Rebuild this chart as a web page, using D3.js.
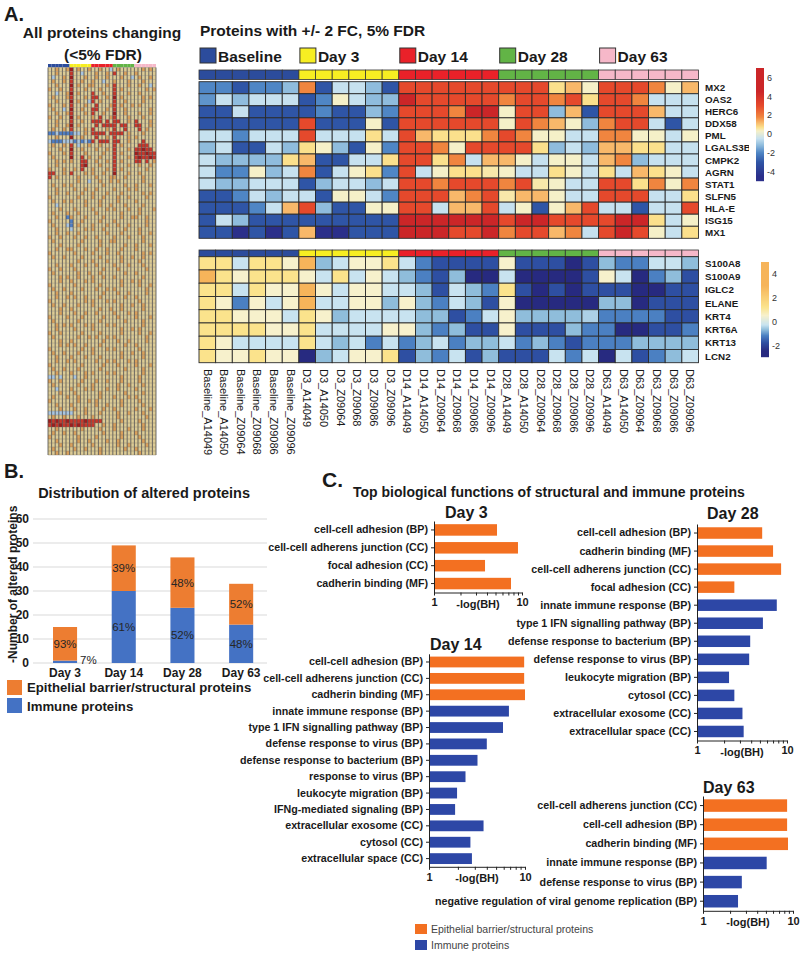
<!DOCTYPE html>
<html><head><meta charset="utf-8">
<script src="https://cdn.jsdelivr.net/npm/d3@7/dist/d3.min.js"></script>
<style>
html,body{margin:0;padding:0;background:#fff;}
svg text{font-family:"Liberation Sans",Arial,Helvetica,sans-serif;}
</style></head>
<body>
<svg id="fig" width="800" height="957" xmlns="http://www.w3.org/2000/svg"></svg>
<script>
// ---------------- DATA ----------------
const groups = ["Baseline","Day 3","Day 14","Day 28","Day 63"];
const groupPrefixes = ["Baseline","D3","D14","D28","D63"];
const groupColors = ["#2c4c9c","#f7ee22","#ea2129","#62b446","#f6b8c9"];
const donors = ["A14049","A14050","Z09064","Z09068","Z09086","Z09096"];
const upperGenes = ["MX2","OAS2","HERC6","DDX58","PML","LGALS3BP","CMPK2","AGRN","STAT1","SLFN5","HLA-E","ISG15","MX1"];
const lowerGenes = ["S100A8","S100A9","IGLC2","ELANE","KRT4","KRT6A","KRT13","LCN2"];
const upperValues = [
 [-2,-2,-3,-2,-2,-1.2,  1.8,-3,-0.5,-0.5,-1.2,-3,  3,3,3,3,3,3,  3,3,3,0.7,1.2,0.3,  3,3,3,1.8,0.3,1.2],
 [-1.8,-0.5,-1.2,-0.5,-0.5,-0.5,  -3,-2,0.3,-0.5,-1.2,-1.2,  4.5,3,3,3,3,3,  1.8,3,3,1.8,3,0.7,  3,3,1.8,-0.5,-0.5,-0.5],
 [-3,-3,-0.5,-3,-3,-3,  -3,-2,-3,-3,-1.2,-2,  3,3,3,1.8,4.5,4.5,  0.3,3,3,-1.2,1.2,-3,  3,3,3,1.2,-0.5,-0.5],
 [-3,-3,-3,-3,-3,-3,  3,-3,-3,-3,0.3,-3,  3,3,3,3,3,3,  0.3,3,1.8,1.2,0.3,-1.2,  1.8,3,3,-0.5,-3,-0.5],
 [-0.5,-0.5,-2,-0.5,-0.5,-0.5,  3,-0.5,-0.5,-0.5,0.7,-0.5,  3,1.2,0.7,0.7,0.7,1.8,  3,1.8,0.3,0.3,-0.5,-0.5,  1.8,1.8,0.3,0.3,-0.5,0.3],
 [-1.2,-0.5,-3,-3,-0.5,-1.2,  0.7,0.3,-1.2,-3,0.3,-2,  3,3,1.8,0.3,3,3,  3,3,0.7,-1.2,-0.5,-1.2,  1.2,1.2,0.7,0.7,-0.5,-0.5],
 [-0.5,-1.2,-1.2,-1.2,-1.2,0.7,  1.2,-3,-3,-0.5,-0.5,0.7,  3,3,0.7,1.8,-0.5,1.2,  1.2,0.3,-0.5,0.3,0.3,-0.5,  1.2,1.8,-1.2,-0.5,-0.5,-0.5],
 [-0.5,-2,-2,0.3,-1.2,-0.5,  1.8,-3,-0.5,0.3,0.7,-2,  3,-0.5,0.3,0.7,0.7,0.5,  0.3,-0.5,-0.5,0.7,0.3,-0.5,  0.7,-0.5,1.2,0.7,0.3,-0.5],
 [-0.5,-1.2,-1.2,-0.5,-0.5,-0.5,  -3,-1.2,-0.5,-0.5,-1.2,-0.5,  3,3,1.8,3,3,3,  1.8,3,0.5,0.3,-0.5,-0.5,  3,3,0.7,1.8,0.3,1.8],
 [-3,-3,-2,-0.5,-1.2,-0.5,  -0.5,-3,0.3,0.3,-0.5,-2,  3,3,3,1.2,1.8,3,  0.5,1.2,1.2,0.3,-0.5,-0.5,  3,3,3,-0.5,-0.5,0.7],
 [-3,-3,-3,-2,-0.5,1.2,  3,-1.2,-3,-3,0.3,0.3,  3,3,-0.5,1.2,1.2,3,  -0.5,0.3,-3,0.3,1.2,3,  -0.5,-0.5,-3,-0.5,-0.5,3],
 [-3,-0.5,-1.2,-3,-3,-3,  -3,-3,-3,-3,-3,-3,  4.5,4.5,4.5,4.5,4.5,4.5,  3,4.5,4.5,3,3,3,  3,4.5,4.5,0.7,-0.5,0.3],
 [-3,-3,-4.5,-3,-4.5,-3,  1.2,-4.5,-4.5,-3,-3,-3,  4.5,4.5,4.5,3,3,4.5,  1.8,3,3,1.2,1.8,-0.5,  3,4.5,3,0.3,-0.5,0.7]
];
const lowerValues = [
 [1.2,1.2,-0.3,1.2,1.2,0.5,  3,-0.7,-0.3,0.5,0.5,1.2,  -0.3,-1.2,-1.8,-1.8,-1.8,-1.8,  0.5,-1.8,-1.8,-1.8,-2.5,-1.8,  -0.7,-1.2,-1.2,-0.3,-0.3,-0.7],
 [3,1.2,0.5,1.2,1.2,1.2,  0.5,-0.3,1.2,-0.3,0.5,-0.3,  -0.7,-1.2,-1.8,-0.7,-2.5,-2.5,  -0.3,-2.5,-2.5,-2.5,-2.5,-1.8,  0.5,-0.3,-2.5,-1.2,-0.7,-1.8],
 [1.2,1.2,-0.3,1.2,0.5,0.5,  3,0.5,-0.3,0.5,0.5,-0.3,  -0.3,-0.7,-1.8,-0.3,-0.7,-1.2,  1.2,-1.8,-2.5,-1.8,-2.5,-1.8,  -1.8,-1.8,-2.5,-2.5,-1.8,-1.8],
 [1.2,0.5,-1.2,0.5,-0.3,0.5,  3,-0.3,-0.3,0.5,0.5,-0.7,  0.5,-0.7,-1.2,-0.3,-0.7,-1.8,  0.5,-2.5,-2.5,-2.5,-2.5,-2.5,  -0.7,-0.7,-2.5,-1.8,-1.8,-1.8],
 [1.2,1.2,0.5,0.5,0.5,-0.3,  1.2,0.5,-0.7,-0.3,-0.3,-0.3,  -0.3,-0.7,-0.7,-1.8,-1.2,-0.3,  0.5,-0.7,-0.7,-0.7,-0.7,-0.5,  -1.2,-1.2,-1.2,-1.2,-1.8,-1.8],
 [1.2,1.2,1.2,1.2,0.5,0.5,  1.2,-0.3,-0.3,-0.3,-0.3,0.5,  0.5,-0.7,-1.2,-0.7,-1.8,-1.8,  0.5,-1.8,-1.8,-1.8,-0.7,-1.2,  -1.2,-2.5,-2.5,-1.8,-1.8,-1.2],
 [1.2,0.5,-0.3,-0.3,-0.3,-0.3,  1.2,-0.3,-0.7,-0.3,-1.2,-0.3,  -1.2,-0.7,-0.3,-1.2,-0.7,-0.7,  -0.3,-1.2,-0.7,-1.2,-1.8,-1.2,  -1.2,-1.2,-0.7,-0.7,-0.7,-0.7],
 [1.2,0.5,0.5,1.2,0.5,0.5,  -2.5,-0.7,-0.3,0.5,0.5,1.2,  -1.8,-0.7,-1.2,-0.3,-1.8,-0.7,  -1.8,-1.8,-1.8,-0.3,-1.2,-0.3,  -2.5,-0.3,-1.8,-1.2,-0.7,-0.3]
];
const upperTicks = [6,4,2,0,-2,-4];
const lowerTicks = [4,2,0,-2];

// overview heatmap (coarse reading): . neutral, o orange, r red, R dark red, b light blue, B blue
const miniRows = [
"..o..o|R.o..o|..o..b|.o....|..o.o.","..o...|r..b..|.o..o.|r..o..|o.....",".b..o.|R...o.|.o..o.|..o..b|.o..o.",
".o..o.|r..o..|o..b..|o...o.|..o...","..o...|R.o..o|o...o.|r...o.|.o..b.","o..o..|r...o.|..o...|r.o...|...o.o",
"..b..o|R.o...|r..o..|r...o.|.o....",".o...o|r...o.|rr..o.|R.o...|..o.o.","..o...|R.o..b|r.o...|r..o..|..o...",
"o...o.|r...o.|.r...o|r.o..o|.o....",".o..b.|R..o..|rr..o.|r..o..|....o.","..o..o|r...o.|r..o..|R..o..|.o..o.",
"o..o..|R.o...|o.r..o|r...o.|..o...","..o...|r..o..|rrr.r.|rr..o.|r...o.","..o..o|R.o...|.r.rrr|r.rr..|rr..o.",
".o..o.|r...o.|r...o.|r..r..|.r.o..","BBbBBB|Bbb.o.|rrrr.r|rrr.o.|..o...","..o...|R..o..|.r..o.|r...o.|o.....",
"bBBBbb|bBbBbB|r.rrr.|rr..o.|..r...",".o..o.|r.b..o|..o...|r.o...|.rrr..","...o..|R..o..|.o..o.|r...o.|rrRrr.",
"o...o.|r...o.|...o..|r.o...|RrrRrr",".o....|R..r.o|..o...|r...o.|rRrrRr","..o.o.|o..rr.|.o..o.|r.o...|rr.r.o",
"..o...|...rR.|..o...|r...o.|.o..o.","o...o.|.o.r..|o...o.|r.o...|...o..","rr..o.|r...o.|o..o..|R...o.|.o....",
"r.o...|..o...|.o...o|o..o..|..o...","......|..o..b|..o..o|.o....|..o...",".o..o.|o.....|...o..|...o..|o...o.",
"..o...|.o..o.|.o....|o...o.|o.....","..o..o|...o..|o...o.|..o...|..o.o.","o.....|..o...|o..o..|.o..o.|...o..",
".o..o.|o...o.|..o...|.o....|o.....","..b...|....o.|..o..o|...o..|..o...","...o..|.o....|o...o.|o...o.|.o...o",
".o...o|..o...|.o....|..o...|.o....","..o..B|o...o.|...o..|..o..o|o..o..","o.....|B..o..|..o...|o.....|...o..",
".o...b|B.o...|o...o.|.o..o.|...o..","..o...|b...o.|o..o..|...o..|.o....","..o..o|..o...|....o.|..o...|.o..o.",
"o..o..|.o..o.|.o....|o...o.|..o...",".o....|...o..|..o..o|o.....|..o...","...o..|..o...|..o...|...o..|o...o.",
"..o..o|o...o.|.o..o.|..o...|o.....","o.....|.o....|o...o.|.o....|..o.o.",".o..o.|...o..|..o...|..o..o|..o...",
"......|..o...|o...o.|..o...|.o....","..o...|o...o.|.o....|o...o.|..o...","o..o..|.o....|...o..|.o....|...o..",
".o....|..o..o|..o...|...o..|o.....","...o.o|..o...|o..o..|o.....|..o...","...o..|o...o.|o.....|..o..o|.o....",
"o.....|.o....|..o...|..o...|.o..o.",".o..o.|...o..|.o..o.|o.....|...o..","..o...|o.....|...o..|.o..o.|...o..",
"..o..o|.o..o.|..o...|...o..|o.....","o.....|....o.|o...o.|o.....|.o....",".o..o.|..o...|o.....|..o..o|..o...",
"...o..|o.....|..o..o|..o...|..o...","...o..|.o..o.|.o....|o...o.|o.....","o....o|...o..|...o..|.o....|o...o.",
".o....|..o...|..o...|...o..|..o...","..o.o.|o...o.|o...o.|o.....|..o...","..o...|.o....|o.....|..o..o|.o....",
"o..o..|...o..|..o...|..o...|.o..o.",".o....|..o..o|.o..o.|o.....|...o..","...o..|o.....|...o..|.o..o.|...o..",
"...o.o|.o..o.|..o...|...o..|o.....","o.....|...o..|o...o.|o.....|.o....",".o..o.|..o...|o.....|..o..o|..o...",
"..o...|o...o.|..o...|..o...|..o...","..o..o|.o....|.o..o.|o...o.|o.....","o.....|...o..|...o..|.o....|o...o.",
".o..o.|..o...|..o...|...o..|..o...","..o...|o...o.|o...o.|o.....|..o...","bb.b..|.b..o.|......|..o...|.o....",
"o..o..|...o..|.o..o.|..o...|.o....",".o....|..o...|o.....|.o..o.|..o...","..b...|o...o.|o...o.|.o....|o.....",
"...o..|.o....|..o...|...o..|..o...",".o...o|..o...|..o...|o...o.|o.....","o.....|..o..o|.o....|..o...|.o....",
"..o...|o.....|.o..o.|..o...|..o...","...o..|.o..o.|...o..|o.....|o...o.","bbbbbb|b...o.|..o...|.o..o.|..o...",
".o..o.|..o...|o.....|.o....|...o..","RrRrrR|rrrrRr|rrr...|..o...|.o....","rRrRrr|RrRrrr|r..o..|o.....|..o...",
"..o...|...o..|..o...|o...o.|..o...",".o..o.|.o....|...o..|..o...|o.....","o.....|..o...|.o....|..o...|.o....",
"..o...|..o..o|....o.|.o....|..o...","...o..|o.....|o.....|.o..o.|...o..",".o....|.o..o.|..o...|...o..|o.....",
"..o..o|......|..o...|......|.o...."
];
const miniPalette = {".":"#dccb95","o":"#d9a05c","r":"#c8382b","R":"#a01d1d","b":"#a9c5e0","B":"#4f7ec4","y":"#ebe2b4"};

const barDays = ["Day 3","Day 14","Day 28","Day 63"];
const immuneCounts = [1,30,23,16];
const epithelialCounts = [14,19,21,17];
const countTicks = [0,10,20,30,40,50,60];

const day3Terms = ["cell-cell adhesion (BP)","cell-cell adherens junction (CC)","focal adhesion (CC)","cadherin binding (MF)"];
const day3Values = [5.2,9.0,3.8,7.5];
const day3Types = ["E","E","E","E"];
const day14Terms = ["cell-cell adhesion (BP)","cell-cell adherens junction (CC)","cadherin binding (MF)","innate immune response (BP)","type 1 IFN signalling pathway (BP)","defense response to virus (BP)","defense response to bacterium (BP)","response to virus (BP)","leukocyte migration (BP)","IFNg-mediated signaling (BP)","extracellular exosome (CC)","cytosol (CC)","extracellular space (CC)"];
const day14Values = [9.8,9.8,10,6.8,5.9,4.0,3.2,2.4,1.96,1.87,3.7,2.7,2.8];
const day14Types = ["E","E","E","I","I","I","I","I","I","I","I","I","I"];
const day28Terms = ["cell-cell adhesion (BP)","cadherin binding (MF)","cell-cell adherens junction (CC)","focal adhesion (CC)","innate immune response (BP)","type 1 IFN signalling pathway (BP)","defense response to bacterium (BP)","defense response to virus (BP)","leukocyte migration (BP)","cytosol (CC)","extracellular exosome (CC)","extracellular space (CC)"];
const day28Values = [5.3,7.0,8.6,2.6,7.7,5.4,3.9,3.8,2.27,2.6,3.2,3.3];
const day28Types = ["E","E","E","E","I","I","I","I","I","I","I","I"];
const day63Terms = ["cell-cell adherens junction (CC)","cell-cell adhesion (BP)","cadherin binding (MF)","innate immune response (BP)","defense response to virus (BP)","negative regulation of viral genome replication (BP)"];
const day63Values = [8.6,8.6,8.8,5.1,2.7,2.45];
const day63Types = ["E","E","E","I","I","I"];
const logTicks = [1,2,3,4,5,6,7,8,9,10];
const legendLabels = ["Epithelial barrier/structural proteins","Immune proteins"];

// ---------------- DRAWING ----------------
const svg = d3.select("#fig");
const INK = "#1a1a1a";
function txt(g, x, y, s, size, weight, anchor, fill){
  return g.append("text").attr("x",x).attr("y",y).text(s)
    .attr("font-size",size).attr("font-weight",weight||"bold")
    .attr("text-anchor",anchor||"start").attr("fill",fill||INK);
}

txt(svg, 4, 21, "A.", 20, "bold");
txt(svg, 102, 38, "All proteins changing", 15.5, "bold", "middle");
txt(svg, 103, 60, "(<5% FDR)", 15.5, "bold", "middle");

const miniGrid = miniRows.map(r => r.replace(/\|/g,""));
const miniX = d3.scaleBand().domain(d3.range(30)).range([48,156]);
const miniY = d3.scaleBand().domain(d3.range(miniGrid.length)).range([67.5,455]);
const mini = svg.append("g");
mini.selectAll("rect.ann").data(d3.range(30)).join("rect")
  .attr("x", c => miniX(c)).attr("y", 64).attr("width", miniX.bandwidth()).attr("height", 3.3)
  .attr("fill", c => groupColors[Math.floor(c/6)]);
miniGrid.forEach((row, r) => {
  mini.selectAll(null).data(row.split("")).join("rect")
    .attr("x", (d,c) => miniX(c)).attr("y", miniY(r))
    .attr("width", miniX.bandwidth()).attr("height", miniY.bandwidth())
    .attr("fill", d => miniPalette[d] || miniPalette["."]);
});
mini.selectAll("line.v").data(d3.range(31)).join("line")
  .attr("x1", c => 48 + c*miniX.step()).attr("x2", c => 48 + c*miniX.step())
  .attr("y1", 67.5).attr("y2", 455).attr("stroke","#4a4a4a").attr("stroke-width",0.8);
mini.selectAll("line.h").data(d3.range(miniGrid.length+1)).join("line")
  .attr("x1", 48).attr("x2", 156)
  .attr("y1", r => 67.5 + r*miniY.step()).attr("y2", r => 67.5 + r*miniY.step())
  .attr("stroke","#7a7060").attr("stroke-width",0.35);

txt(svg, 200, 36, "Proteins with +/- 2 FC, 5% FDR", 15.5, "bold");
const sampleLabels = groupPrefixes.flatMap(p => donors.map(d => p + "_" + d));
const xCol = d3.scaleBand().domain(sampleLabels).range([199, 698.5]);
groups.forEach((gname, i) => {
  const x0 = xCol(groupPrefixes[i] + "_" + donors[0]);
  svg.append("rect").attr("x", x0 + 1).attr("y", 48).attr("width", 16).attr("height", 15)
    .attr("fill", groupColors[i]).attr("stroke", "#333").attr("stroke-width", 1);
  txt(svg, x0 + 19, 61.5, gname, 15.5, "bold");
});

const upColor = d3.scaleLinear()
  .domain([-4.5,-3,-2,-1.2,-0.5,0.3,0.7,1.2,1.8,3,4.5])
  .range(["#2b2f8a","#2f55a6","#4f86c5","#8fbcdd","#c6e1ef","#f5f0c8","#fbe08c","#f8b86a","#f0853f","#e5492c","#cb2628"])
  .clamp(true);
const loColor = d3.scaleLinear()
  .domain([-2.5,-1.8,-1.2,-0.7,-0.3,0.5,1.2,3])
  .range(["#272a80","#2e4fa2","#4b80c2","#8fbddb","#c8e3f0","#f7f1cc","#fbe38c","#f6b45a"])
  .clamp(true);

function heat(genes, values, yRange, annY, annH, color){
  const g = svg.append("g");
  const y = d3.scaleBand().domain(genes).range(yRange);
  g.selectAll("rect.ann").data(sampleLabels).join("rect")
    .attr("x", d => xCol(d)).attr("y", annY).attr("width", xCol.bandwidth()).attr("height", annH)
    .attr("fill", (d,i) => groupColors[Math.floor(i/6)]).attr("stroke","#333").attr("stroke-width",0.8);
  genes.forEach((gene, r) => {
    g.selectAll(null).data(values[r]).join("rect")
      .attr("x", (v,c) => xCol(sampleLabels[c])).attr("y", y(gene))
      .attr("width", xCol.bandwidth()).attr("height", y.bandwidth())
      .attr("fill", v => color(v)).attr("stroke", "#2a2a2a").attr("stroke-width", 0.9);
  });
  return y;
}
const yUp = heat(upperGenes, upperValues, [81.7, 238.3], 70, 9.5, upColor);
const yLo = heat(lowerGenes, lowerValues, [256.7, 362.7], 250, 6.7, loColor);

svg.append("clipPath").attr("id","lblclip").append("rect").attr("x",700).attr("y",60).attr("width",49).attr("height",320);
const rl = svg.append("g").attr("clip-path","url(#lblclip)");
upperGenes.forEach(gn => txt(rl, 705, yUp(gn) + yUp.bandwidth()/2 + 3.5, gn, 9.8, "bold"));
lowerGenes.forEach(gn => txt(rl, 705, yLo(gn) + yLo.bandwidth()/2 + 3.5, gn, 9.8, "bold"));

sampleLabels.forEach(s => {
  svg.append("text").text(s)
    .attr("transform", `translate(${xCol(s) + xCol.bandwidth()/2 - 3.8},369) rotate(90)`)
    .attr("font-size", 11).attr("fill", INK);
});

function colorKey(x, y0, y1, dom, color, ticks){
  const s = d3.scaleLinear().domain(dom).range([y1, y0]);
  const g = svg.append("g");
  const steps = d3.range(Math.floor(y0), Math.ceil(y1), 1);
  g.selectAll("rect").data(steps).join("rect")
    .attr("x", x).attr("y", d => d).attr("width", 8).attr("height", 1.2)
    .attr("fill", d => color(s.invert(d + 0.5)));
  const ax = g.append("g").attr("transform", `translate(${x+8},0)`)
    .call(d3.axisRight(s).tickValues(ticks).tickSize(0).tickPadding(3).tickFormat(d => String(d)));
  ax.select(".domain").remove();
  ax.selectAll("text").attr("font-size", 9).attr("fill", "#333").attr("font-family", '"Liberation Sans",Arial,sans-serif');
}
colorKey(756, 68, 181, [-5, 7], upColor, upperTicks);
colorKey(761, 262, 357, [-3, 5], loColor, lowerTicks);

txt(svg, 4, 478, "B.", 20, "bold");
txt(svg, 250, 498, "Distribution of altered proteins", 14.5, "bold", "end");
const EPI = "#ed7d31", IMM = "#4472c4";
const yB = d3.scaleLinear().domain([0, 60]).range([663, 519]);
const xB = d3.scaleBand().domain(barDays).range([35.4, 270.8]).paddingInner(0.59).paddingOuter(0.3);
const gB = svg.append("g");
gB.selectAll("line.grid").data(countTicks).join("line")
  .attr("x1", 33).attr("x2", 267).attr("y1", d => yB(d)).attr("y2", d => yB(d))
  .attr("stroke", "#d9d9d9").attr("stroke-width", 1);
const yAxB = gB.append("g").attr("transform", "translate(31,0)")
  .call(d3.axisLeft(yB).tickValues(countTicks).tickSize(0).tickPadding(2));
yAxB.select(".domain").remove();
yAxB.selectAll("text").attr("font-size", 12).attr("font-weight", "bold").attr("fill", INK).attr("font-family", '"Liberation Sans",Arial,sans-serif');
gB.selectAll("rect.imm").data(barDays).join("rect")
  .attr("x", d => xB(d)).attr("width", xB.bandwidth())
  .attr("y", (d,i) => yB(immuneCounts[i])).attr("height", (d,i) => yB(0) - yB(immuneCounts[i]))
  .attr("fill", IMM);
gB.selectAll("rect.epi").data(barDays).join("rect")
  .attr("x", d => xB(d)).attr("width", xB.bandwidth())
  .attr("y", (d,i) => yB(immuneCounts[i] + epithelialCounts[i]))
  .attr("height", (d,i) => yB(immuneCounts[i]) - yB(immuneCounts[i] + epithelialCounts[i]))
  .attr("fill", EPI);
barDays.forEach((d, i) => {
  const tot = immuneCounts[i] + epithelialCounts[i];
  const pe = Math.round(100 * epithelialCounts[i] / tot) + "%";
  const pi = Math.round(100 * immuneCounts[i] / tot) + "%";
  const cx = xB(d) + xB.bandwidth()/2;
  const ye = (yB(immuneCounts[i]) + yB(tot)) / 2;
  txt(gB, cx, ye + 4, pe, 11.5, "normal", "middle", "#262626");
  if (immuneCounts[i] >= 5) {
    txt(gB, cx, (yB(0) + yB(immuneCounts[i])) / 2 + 4, pi, 11.5, "normal", "middle", "#262626");
  } else {
    txt(gB, xB(d) + xB.bandwidth() + 3, yB(0) + 1, pi, 11.5, "normal", "start", "#262626");
  }
  txt(gB, cx, 677, d, 12, "bold", "middle");
});
gB.append("text").text("-Number of altered proteins")
  .attr("transform", "translate(17,663) rotate(-90)")
  .attr("font-size", 12).attr("font-weight", "bold").attr("fill", INK);
gB.append("rect").attr("x", 7).attr("y", 680).attr("width", 15).attr("height", 15).attr("fill", EPI);
txt(gB, 27, 692, legendLabels[0], 13.2, "bold");
gB.append("rect").attr("x", 7).attr("y", 698).attr("width", 15).attr("height", 15).attr("fill", IMM);
txt(gB, 27, 711, legendLabels[1], 13.2, "bold");

txt(svg, 322, 487, "C.", 21, "bold");
txt(svg, 353, 497, "Top biological functions of structural and immune proteins", 14, "bold");
const CE = "#f37021", CI = "#2d47a6";
function goChart(cfg){
  const g = svg.append("g");
  const step = (cfg.bottom - cfg.top) / cfg.terms.length;
  const pad = 1 - cfg.barH / step;
  const y = d3.scaleBand().domain(cfg.terms).range([cfg.top, cfg.bottom]).paddingInner(pad).paddingOuter(pad/2);
  const x = d3.scaleLog().domain([1, 10]).range([cfg.x0, cfg.x1]);
  g.selectAll("rect").data(cfg.terms).join("rect")
    .attr("x", x(1)).attr("y", d => y(d)).attr("height", y.bandwidth())
    .attr("width", (d,i) => x(cfg.values[i]) - x(1))
    .attr("fill", (d,i) => cfg.types[i] === "E" ? CE : CI);
  const yl = g.append("g").attr("transform", `translate(${cfg.x0},0)`)
    .call(d3.axisLeft(y).tickSize(3).tickPadding(3).tickSizeOuter(0));
  yl.selectAll("text").attr("font-size", 10.7).attr("font-weight", "bold").attr("fill", INK)
    .attr("font-family", '"Liberation Sans",Arial,sans-serif');
  yl.selectAll("line,path").attr("stroke", "#222");
  const xl = g.append("g").attr("transform", `translate(0,${cfg.bottom})`)
    .call(d3.axisBottom(x).tickValues(logTicks).tickFormat(d => (d === 1 || d === 10) ? d : "").tickSize(3).tickSizeOuter(0));
  xl.selectAll("text").attr("font-size", 11).attr("font-weight", "bold").attr("fill", INK)
    .attr("font-family", '"Liberation Sans",Arial,sans-serif');
  xl.selectAll("line,path").attr("stroke", "#222");
  txt(g, (cfg.x0 + cfg.x1) / 2, cfg.bottom + 15, "-log(BH)", 11, "bold", "middle");
  txt(g, cfg.titleX, cfg.titleY, cfg.title, 16, "bold");
}
goChart({terms: day3Terms, values: day3Values, types: day3Types, top: 521, bottom: 592.5, barH: 11.5, x0: 434, x1: 522, title: "Day 3", titleX: 445, titleY: 518});
goChart({terms: day14Terms, values: day14Values, types: day14Types, top: 653.8, bottom: 866.8, barH: 10.8, x0: 429, x1: 525, title: "Day 14", titleX: 430, titleY: 650});
goChart({terms: day28Terms, values: day28Values, types: day28Types, top: 524, bottom: 740.5, barH: 11.5, x0: 697, x1: 787, title: "Day 28", titleX: 707, titleY: 519});
goChart({terms: day63Terms, values: day63Values, types: day63Types, top: 796, bottom: 910.8, barH: 12.5, x0: 703, x1: 793, title: "Day 63", titleX: 703, titleY: 793});

svg.append("rect").attr("x", 415).attr("y", 924).attr("width", 12).attr("height", 10).attr("fill", CE);
txt(svg, 431, 933, legendLabels[0], 10.5, "normal", "start", "#444");
svg.append("rect").attr("x", 415).attr("y", 940).attr("width", 12).attr("height", 10).attr("fill", CI);
txt(svg, 431, 949, legendLabels[1], 10.5, "normal", "start", "#444");
</script>
</body></html>
